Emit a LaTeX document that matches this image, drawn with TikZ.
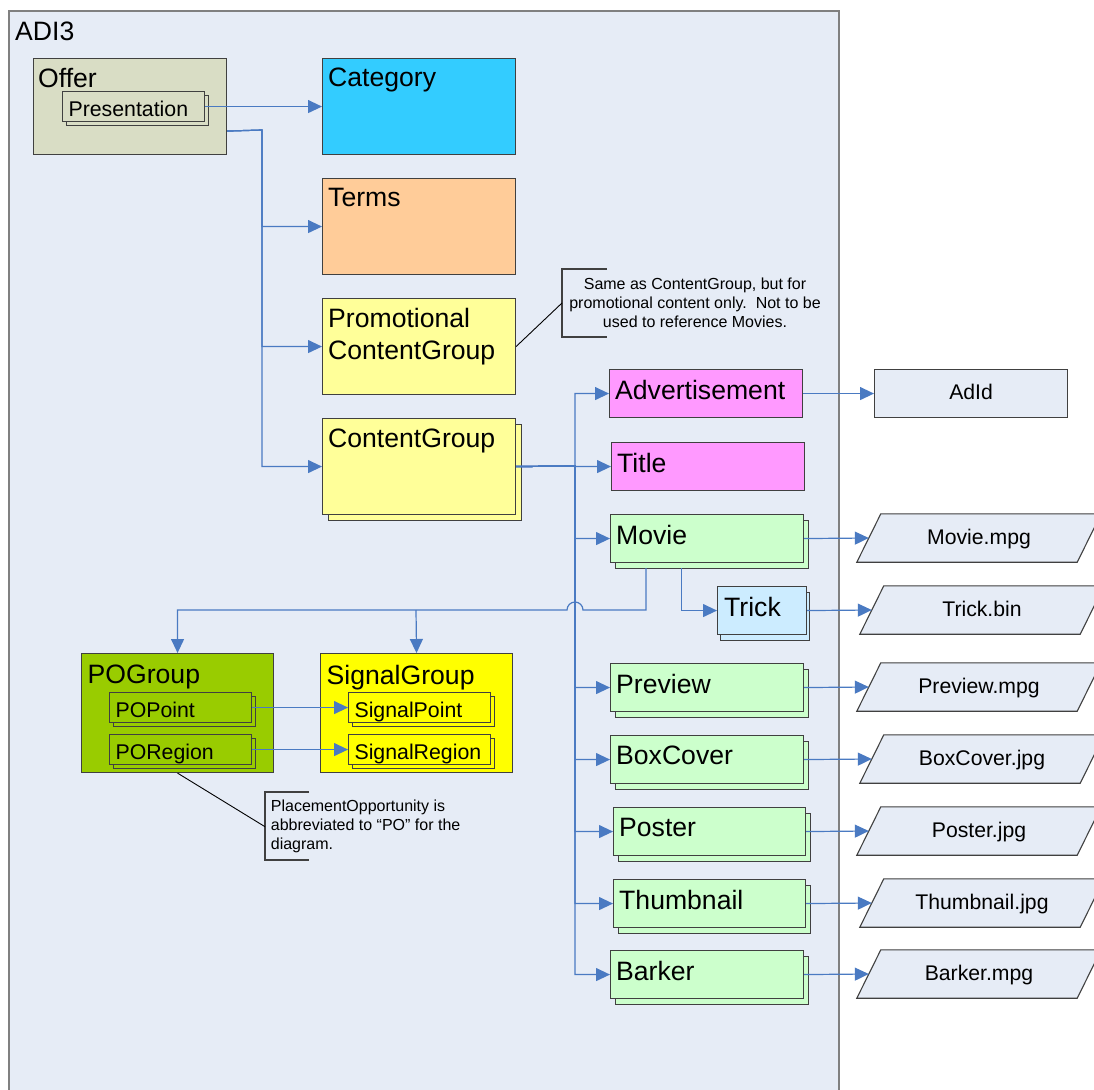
\documentclass[tikz,border=0pt]{standalone}
\usepackage{fontspec}
\setmainfont{Liberation Sans}
\usetikzlibrary{arrows.meta,shadows,calc}
\pgfdeclarelayer{bg}
\pgfsetlayers{bg,main}
\definecolor{adibg}{RGB}{230,236,246}
\definecolor{adiline}{RGB}{128,128,128}
\definecolor{boxline}{RGB}{64,64,64}
\definecolor{conncol}{RGB}{74,122,194}
\definecolor{offercol}{RGB}{217,221,197}
\definecolor{catcol}{RGB}{51,204,255}
\definecolor{termscol}{RGB}{255,204,153}
\definecolor{pyellow}{RGB}{255,255,153}
\definecolor{pink}{RGB}{255,153,255}
\definecolor{lgreen}{RGB}{204,255,204}
\definecolor{lblue}{RGB}{204,236,255}
\definecolor{pogcol}{RGB}{153,204,0}
\definecolor{sgcol}{RGB}{255,255,0}
\begin{document}
\begin{tikzpicture}[x=1pt,y=-1pt,
  box/.style={draw=boxline, line width=1.1pt, rectangle, inner sep=0pt, anchor=north west},
  lbl/.style={anchor=north west, inner sep=0pt, font=\fontsize{26.6}{32}\selectfont, align=left},
  sbox/.style={box, minimum height=30, text width=130pt, inner xsep=6pt, inner ysep=0pt,
    text height=19pt, text depth=0pt, align=left, font=\fontsize{21.3}{25}\selectfont},
  stackS/.style={copy shadow={shadow xshift=4pt, shadow yshift=-4pt}},
  stackM/.style={copy shadow={shadow xshift=5pt, shadow yshift=-6pt}},
  stackL/.style={copy shadow={shadow xshift=6pt, shadow yshift=-6pt}},
  stackT/.style={copy shadow={shadow xshift=3pt, shadow yshift=-6pt}},
  bigbox/.style={box, minimum width=193, minimum height=96},
  kid/.style={box, fill=lgreen, minimum width=193, minimum height=48, stackM},
  file/.style={inner sep=0pt, minimum width=220, minimum height=48, text height=12.5pt,
    text depth=0pt, font=\fontsize{21.2}{25}\selectfont},
  fileshape/.style={draw=boxline, line width=1.1pt, fill=adibg},
  conn/.style={draw=conncol, line width=1.2pt, -{Triangle[length=14pt,width=13pt]}},
  leader/.style={draw=black, line width=0.9pt},
  bracket/.style={draw=boxline, line width=1.1pt},
  note/.style={inner sep=0pt, font=\fontsize{16}{19}\selectfont}]
\useasboundingbox (0,0) rectangle (1094,1089);
\clip (0,0) rectangle (1094,1089);

% container
\node[draw=adiline, line width=2pt, fill=adibg, rectangle, inner sep=0pt, anchor=north west,
  minimum width=830, minimum height=1100] (adi) at (8,10) {};
\node[lbl] (adi-t) at (15,22) {ADI3};

% Offer
\node[bigbox, fill=offercol] (offer) at (33,58) {};
\node[lbl] (offer-t) at ($(offer.north west)+(5,10)$) {Offer};
\node[sbox, fill=offercol, stackS] (pres) at (62,91) {Presentation};

% right column boxes
\node[bigbox, fill=catcol] (cat) at (322,58) {};
\node[lbl] (cat-t) at ($(cat.north west)+(6,10)$) {Category};
\node[bigbox, fill=termscol] (terms) at (322,178) {};
\node[lbl] (terms-t) at ($(terms.north west)+(6,10)$) {Terms};
\node[bigbox, fill=pyellow] (promo) at (322,298) {};
\node[lbl] (promo-t) at ($(promo.north west)+(6,10)$) {Promotional\\ContentGroup};
\node[bigbox, fill=pyellow, stackL] (cg) at (322,418) {};
\node[lbl] (cg-t) at ($(cg.north west)+(6,11)$) {ContentGroup};

% content children
\node[box, fill=pink, minimum width=193, minimum height=48] (adv) at (609,369) {};
\node[lbl] (adv-t) at ($(adv.north west)+(6,11)$) {Advertisement};
\node[box, fill=pink, minimum width=193, minimum height=48] (title) at (611,442) {};
\node[lbl] (title-t) at ($(title.north west)+(6,11)$) {Title};
\node[kid] (movie) at (610,514) {};
\node[lbl] (movie-t) at ($(movie.north west)+(6,11)$) {Movie};
\node[box, fill=lblue, minimum width=89, minimum height=48, stackT] (trick) at (717,586) {};
\node[lbl] (trick-t) at ($(trick.north west)+(7,11)$) {Trick};
\node[kid] (prev) at (610,663) {};
\node[lbl] (prev-t) at ($(prev.north west)+(6,11)$) {Preview};
\node[kid] (boxc) at (610,735) {};
\node[lbl] (boxc-t) at ($(boxc.north west)+(6,11)$) {BoxCover};
\node[kid, minimum width=192] (poster) at (613,807) {};
\node[lbl] (poster-t) at ($(poster.north west)+(6,11)$) {Poster};
\node[kid, minimum width=192] (thumb) at (613,879) {};
\node[lbl] (thumb-t) at ($(thumb.north west)+(6,11)$) {Thumbnail};
\node[kid] (barker) at (610,950) {};
\node[lbl] (barker-t) at ($(barker.north west)+(6,11)$) {Barker};

% PO and Signal groups
\node[box, fill=pogcol, minimum width=192, minimum height=119] (pog) at (81,653) {};
\node[lbl] (pog-t) at ($(pog.north west)+(6.5,12)$) {POGroup};
\node[sbox, fill=pogcol, stackS] (popt) at (109,692) {POPoint};
\node[sbox, fill=pogcol, stackS] (preg) at (109,734) {PORegion};
\node[box, fill=sgcol, minimum width=192, minimum height=119] (sg) at (320,653) {};
\node[lbl] (sg-t) at ($(sg.north west)+(6.5,12)$) {SignalGroup};
\node[sbox, fill=sgcol, stackS] (spt) at (348,692) {SignalPoint};
\node[sbox, fill=sgcol, stackS] (sreg) at (348,734) {SignalRegion};

% outside items
\node[box, fill=adibg, minimum width=193, minimum height=48, text height=12.5pt, text depth=0pt,
  font=\fontsize{21.2}{25}\selectfont] (adid) at (874,369) {AdId};
\node[file] (fmovie) at (979,538) {Movie.mpg};
\node[file] (ftrick) at (982,610) {Trick.bin};
\node[file] (fprev) at (979,687) {Preview.mpg};
\node[file] (fbox) at (982,759) {BoxCover.jpg};
\node[file] (fposter) at (979,831) {Poster.jpg};
\node[file] (fthumb) at (982,903) {Thumbnail.jpg};
\node[file] (fbarker) at (979,974) {Barker.mpg};
\begin{pgfonlayer}{bg}
\foreach \n in {fmovie,ftrick,fprev,fbox,fposter,fthumb,fbarker}
  \draw[fileshape] ($(\n.south west)+(-12,0)$) -- ($(\n.north west)+(12,0)$)
    -- ($(\n.north east)+(12,0)$) -- ($(\n.south east)+(-12,0)$) -- cycle;
\end{pgfonlayer}

% connectors
\draw[conn] (pres.east) -- (cat.west);
\coordinate (ostart) at ($(offer.south east)+(0,-24)$);
\coordinate (trunk) at (262,130);
\draw[conn] (ostart) -- (trunk) |- (terms.west);
\draw[conn] (ostart) -- (trunk) |- (promo.west);
\draw[conn] (ostart) -- (trunk) |- (cg.west);

\coordinate (bus) at (575,466);
\foreach \k in {adv,title,movie,prev,boxc,poster,thumb,barker}
  \draw[conn] (cg.east) -- (bus) |- (\k.west);

\coordinate (m1) at (646,568);
\coordinate (m2) at (681.5,568);
\coordinate (junc) at (416,610);
\draw[conn] (m1) |- (583,610) arc[start angle=0, end angle=-180, radius=8] -- (junc) -| (pog.north);
\draw[conn] (junc) -- (sg.north);
\draw[conn] (m2) |- (trick.west);

\draw[conn] (adv.east) -- (adid.west);
\draw[conn] (movie.east) -- (fmovie.west);
\draw[conn] (trick.east) -- (ftrick.west);
\draw[conn] (prev.east) -- (fprev.west);
\draw[conn] (boxc.east) -- (fbox.west);
\draw[conn] (poster.east) -- (fposter.west);
\draw[conn] (thumb.east) -- (fthumb.west);
\draw[conn] (barker.east) -- (fbarker.west);

\draw[conn] (popt.east) -- (spt.west);
\draw[conn] (preg.east) -- (sreg.west);

% notes
\node[note, anchor=north, align=center] (note1) at (695,277.5)
  {Same as ContentGroup, but for\\promotional content only.\ \ Not to be\\used to reference Movies.};
\draw[bracket] (607,269) -- (562,269) -- (562,337) -- (607,337);
\coordinate (n1a) at (562,303);
\draw[leader] (promo.east) -- (n1a);

\node[note, anchor=north west, align=left] (note2) at (270.7,800)
  {PlacementOpportunity is\\abbreviated to “PO” for the\\diagram.};
\draw[bracket] (309,792) -- (265,792) -- (265,860) -- (309,860);
\coordinate (n2a) at (265,826.7);
\draw[leader] (pog.south) -- (n2a);
\end{tikzpicture}
\end{document}
